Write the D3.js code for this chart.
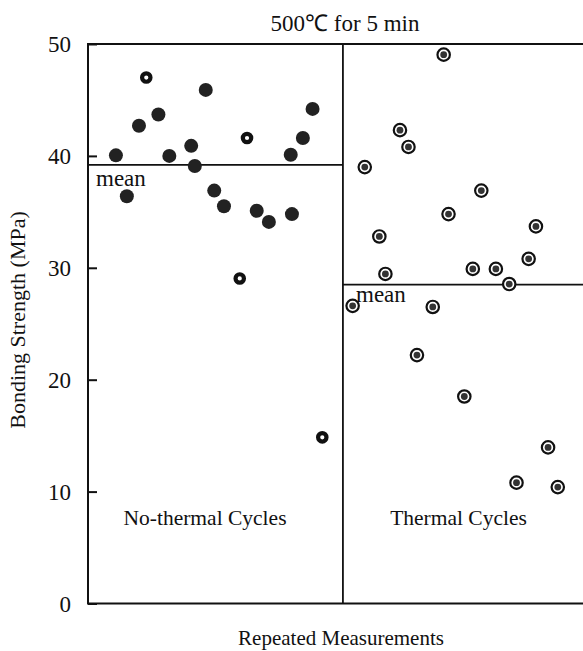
<!DOCTYPE html>
<html lang="en">
<head>
<meta charset="UTF-8">
<title>Bonding strength</title>
<script src="https://cdn.jsdelivr.net/npm/d3@7"></script>
<style>
  body { margin: 0; background: #fff; }
  text { font-family: "Liberation Serif", "Times New Roman", serif; fill: #111; }
</style>
</head>
<body>
<div id="chart"></div>
<script>
// measurement position (run index) and strength in MPa
const noCycleX = [2.3, 3.2, 4.2, 5.8, 6.7, 8.5, 8.8, 9.7, 10.4, 11.2, 13.9, 14.9, 16.7, 16.8, 17.7, 18.5];
const noCycleY = [40.05, 36.4, 42.7, 43.7, 40.0, 40.9, 39.1, 45.9, 36.9, 35.5, 35.1, 34.1, 40.1, 34.8, 41.6, 44.2];
// open markers in the no-thermal group
const noCycleOpenX = [4.8, 12.5, 13.1, 19.3];
const noCycleOpenY = [47.0, 29.05, 41.6, 14.85];
const cycleX = [21.8, 22.8, 24.0, 24.5, 25.7, 26.4, 27.1, 28.4, 29.3, 29.7, 31.0, 31.7, 32.4, 33.6, 34.7, 35.3, 36.3, 36.9, 37.9, 38.7];
const cycleY = [26.6, 39.0, 32.8, 29.45, 42.3, 40.8, 22.2, 26.5, 49.05, 34.8, 18.5, 29.9, 36.9, 29.9, 28.55, 10.8, 30.8, 33.7, 13.95, 10.4];
const means = [39.2, 28.5];
const splitX = 21.0;
const yTicks = [0, 10, 20, 30, 40, 50];

const width = 583, height = 651;
const svg = d3.select("#chart").append("svg")
    .attr("width", width).attr("height", height);

const x = d3.scaleLinear().domain([0, 41]).range([88, 585.7]);
const y = d3.scaleLinear().domain([0, 50]).range([603.5, 44]);

// frame
svg.append("path")
    .attr("d", `M${x(41)},${y(50)}H${x(0)}V${y(0)}H${x(41)}`)
    .attr("fill", "none").attr("stroke", "#111").attr("stroke-width", 2);
svg.append("line")
    .attr("x1", x(splitX)).attr("x2", x(splitX))
    .attr("y1", y(50)).attr("y2", y(0))
    .attr("stroke", "#111").attr("stroke-width", 1.8);

// y axis, ticks pointing inward
const yAxis = svg.append("g")
    .attr("transform", `translate(${x(0)},0)`)
    .call(d3.axisRight(y).tickValues(yTicks).tickSize(9).tickFormat(""));
yAxis.select(".domain").remove();
yAxis.selectAll("line").attr("stroke", "#111").attr("stroke-width", 2);

svg.selectAll(".ylab").data(yTicks).enter().append("text")
    .attr("x", 71).attr("y", d => y(d))
    .attr("dy", "0.35em").attr("text-anchor", "end")
    .style("font-size", "23px")
    .text(d => d);

// mean lines
svg.append("line")
    .attr("x1", x(0)).attr("x2", x(splitX))
    .attr("y1", y(means[0])).attr("y2", y(means[0]))
    .attr("stroke", "#111").attr("stroke-width", 1.8);
svg.append("line")
    .attr("x1", x(splitX)).attr("x2", x(41))
    .attr("y1", y(means[1])).attr("y2", y(means[1]))
    .attr("stroke", "#111").attr("stroke-width", 1.8);

svg.append("text").attr("x", 96).attr("y", y(means[0]) + 21)
    .style("font-size", "23px").text("mean");
svg.append("text").attr("x", 356).attr("y", y(means[1]) + 17.5)
    .style("font-size", "23px").text("mean");

// points
const filled = noCycleX.map((d, i) => [d, noCycleY[i]]);
svg.append("g").selectAll("circle").data(filled).enter().append("circle")
    .attr("cx", d => x(d[0])).attr("cy", d => y(d[1]))
    .attr("r", 7).attr("fill", "#222");

const open = noCycleOpenX.map((d, i) => [d, noCycleOpenY[i]]);
svg.append("g").selectAll("circle").data(open).enter().append("circle")
    .attr("cx", d => x(d[0])).attr("cy", d => y(d[1]))
    .attr("r", 4.2).attr("fill", "#fff")
    .attr("stroke", "#111").attr("stroke-width", 4.2);

const cyc = cycleX.map((d, i) => [d, cycleY[i]]);
const bull = svg.append("g").selectAll("g").data(cyc).enter().append("g")
    .attr("transform", d => `translate(${x(d[0])},${y(d[1])})`);
bull.append("circle").attr("r", 6.2).attr("fill", "#fff")
    .attr("stroke", "#111").attr("stroke-width", 2.2);
bull.append("circle").attr("r", 3.4).attr("fill", "#333");

// labels
svg.append("text").attr("x", 345).attr("y", 31).attr("text-anchor", "middle")
    .style("font-size", "23px").text("500\u2103 for 5 min");
svg.append("text").attr("x", 205).attr("y", 525).attr("text-anchor", "middle")
    .style("font-size", "21.5px").text("No-thermal Cycles");
svg.append("text").attr("x", 458.5).attr("y", 525).attr("text-anchor", "middle")
    .style("font-size", "21.5px").text("Thermal Cycles");
svg.append("text").attr("x", 341).attr("y", 645).attr("text-anchor", "middle")
    .style("font-size", "21px").text("Repeated Measurements");
svg.append("text")
    .attr("transform", `translate(25,320) rotate(-90)`)
    .attr("text-anchor", "middle")
    .style("font-size", "22px").text("Bonding Strength (MPa)");
</script>
</body>
</html>
